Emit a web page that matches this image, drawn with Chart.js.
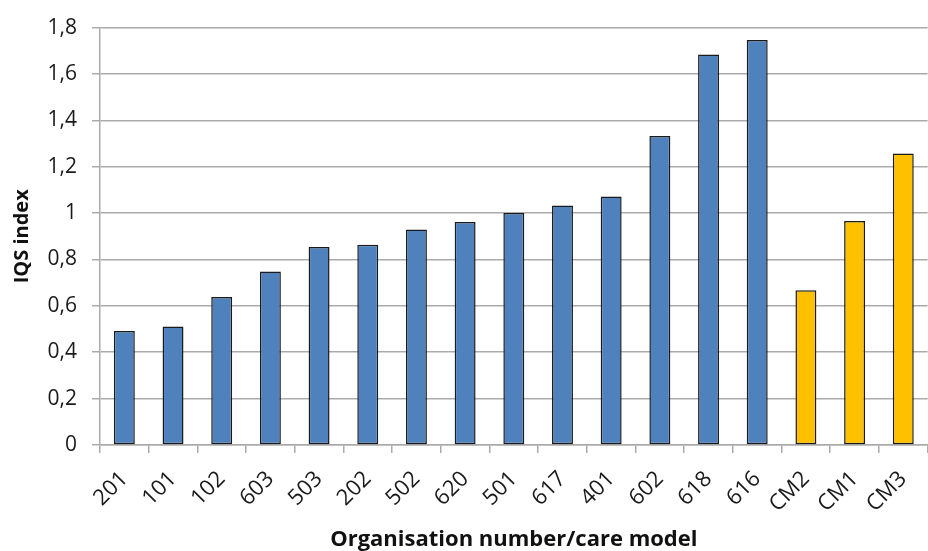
<!DOCTYPE html>
<html>
<head>
<meta charset="utf-8">
<title>IQS index</title>
<script src="https://cdn.jsdelivr.net/npm/chart.js@4/dist/chart.umd.min.js"></script>
<style>
  html, body { margin: 0; padding: 0; background: #fff; }
  .wrap { width: 928px; height: 551px; overflow: hidden; }
  canvas { display: block; }
</style>
</head>
<body>
<div class="wrap">
  <canvas id="myChart" width="935" height="551"></canvas>
</div>
<script>
/*
  • Data
  ---------- ---------- ---------- ---------- ----------
*/
const orgLabels = ['201', '101', '102', '603', '503', '202', '502', '620', '501', '617', '401', '602', '618', '616'];
const orgValues = [0.492, 0.511, 0.638, 0.748, 0.854, 0.864, 0.929, 0.962, 1.0, 1.033, 1.072, 1.333, 1.684, 1.746];
const modelLabels = ['CM2', 'CM1', 'CM3'];
const modelValues = [0.667, 0.966, 1.257];
const yTicks = [0, 0.2, 0.4, 0.6, 0.8, 1, 1.2, 1.4, 1.6, 1.8];

/*
  • Config
  ---------- ---------- ---------- ---------- ----------
*/
const BLUE = '#4F81BD';
const YELLOW = '#FFC000';
const GRID = '#ABABAB';
const FONT = 'Open Sans';

const labels = orgLabels.concat(modelLabels);
const values = orgValues.concat(modelValues);
const colors = orgLabels.map(() => BLUE).concat(modelLabels.map(() => YELLOW));

/*
  • Chart
  ---------- ---------- ---------- ---------- ----------
*/
const ctx = document.getElementById('myChart').getContext('2d');
new Chart(ctx, {
  type: 'bar',
  data: {
    labels: labels,
    datasets: [{
      data: values,
      backgroundColor: colors,
      borderColor: '#1a1a1a',
      borderWidth: 1.5,
      borderSkipped: false,
      categoryPercentage: 1,
      barPercentage: 0.43
    }]
  },
  options: {
    responsive: false,
    animation: false,
    layout: {
      padding: {top: 21, right: 2, left: 0, bottom: 0}
    },
    plugins: {
      legend: {display: false},
      tooltip: {enabled: false}
    },
    scales: {
      x: {
        grid: {
          offset: true,
          drawOnChartArea: false,
          drawTicks: true,
          tickLength: 8,
          color: GRID,
          lineWidth: 1.5
        },
        border: {color: GRID, width: 1.5},
        ticks: {
          color: '#1a1a1a',
          font: {family: FONT, size: 22},
          minRotation: 45,
          maxRotation: 45,
          padding: 13,
          autoSkip: false
        },
        title: {
          display: true,
          text: 'Organisation number/care model',
          color: '#111',
          font: {family: FONT, size: 22, weight: 'bold', lineHeight: 1},
          padding: {top: 0, bottom: 0}
        },
        afterFit: (scale) => { scale.height = 106; }
      },
      y: {
        min: 0,
        max: 1.8,
        afterBuildTicks: (scale) => {
          scale.ticks = yTicks.map(v => ({value: v}));
        },
        grid: {
          color: GRID,
          lineWidth: 1.5,
          drawTicks: true,
          tickLength: 8
        },
        border: {color: GRID, width: 1.5},
        ticks: {
          color: '#1a1a1a',
          font: {family: FONT, size: 21},
          padding: 15,
          callback: (v) => String(Math.round(v * 10) / 10).replace('.', ',')
        },
        title: {
          display: true,
          text: 'IQS index',
          color: '#111',
          font: {family: FONT, size: 20, weight: 'bold'},
          padding: {top: 10, bottom: 0}
        },
        afterFit: (scale) => { scale.width = 100; }
      }
    }
  }
});
</script>
</body>
</html>
